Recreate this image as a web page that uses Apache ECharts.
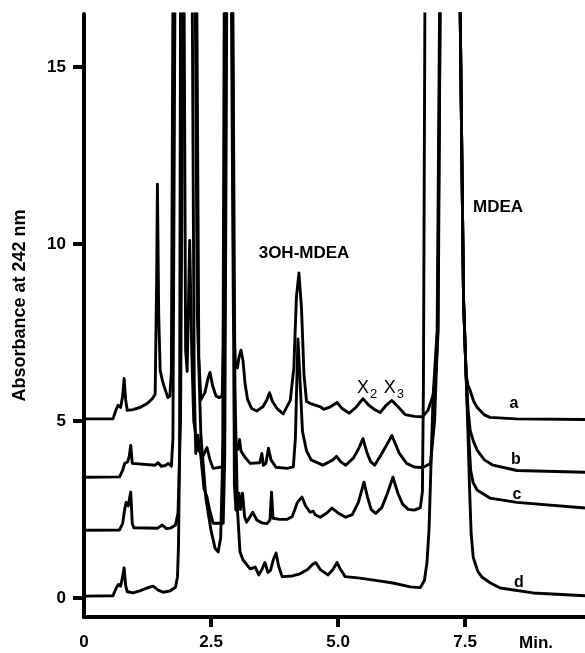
<!DOCTYPE html>
<html>
<head>
<meta charset="utf-8">
<title>Chromatogram</title>
<script src="https://cdn.jsdelivr.net/npm/echarts@6.0.0/dist/echarts.min.js"></script>
<style>
    html, body { margin: 0; padding: 0; background: #fff; }
    #chart { width: 585px; height: 653px; }
</style>
</head>
<body>
<div id="chart"></div>
<script>
// Retention time (min) vs absorbance
const traceA = [
    [0, 5.06], [0.57, 5.06], [0.64, 5.35], [0.67, 5.44], [0.72, 5.38], [0.76, 5.7], [0.79, 6.2], [0.82, 5.6],
    [0.85, 5.3], [0.96, 5.32], [1.10, 5.38], [1.24, 5.49], [1.34, 5.62], [1.40, 5.75], [1.43, 9], [1.445, 11.69],
    [1.47, 8], [1.50, 6.42], [1.55, 6.1], [1.59, 5.92], [1.65, 5.66], [1.69, 5.7], [1.72, 6.4], [1.75, 17],
    [2.22, 17], [2.26, 6.8], [2.30, 5.6], [2.38, 5.8], [2.44, 6.2], [2.48, 6.37], [2.53, 6.0], [2.60, 5.7],
    [2.66, 5.66], [2.72, 5.7], [2.75, 7.5], [2.78, 17], [2.90, 17], [2.94, 8], [2.98, 6.6], [3.02, 6.5],
    [3.05, 6.8], [3.09, 7.0], [3.13, 6.7], [3.17, 6.05], [3.22, 5.6], [3.30, 5.35], [3.40, 5.28], [3.52, 5.4],
    [3.60, 5.6], [3.65, 5.8], [3.71, 5.55], [3.80, 5.35], [3.92, 5.2], [4.06, 5.58], [4.13, 6.5], [4.18, 8.5],
    [4.23, 9.18], [4.28, 8.2], [4.33, 6.3], [4.38, 5.55], [4.45, 5.5], [4.55, 5.45], [4.65, 5.4], [4.72, 5.33],
    [4.85, 5.4], [4.98, 5.52], [5.08, 5.35], [5.22, 5.22], [5.35, 5.38], [5.49, 5.63], [5.60, 5.45], [5.72, 5.32],
    [5.83, 5.24], [5.95, 5.45], [6.06, 5.58], [6.18, 5.4], [6.32, 5.18], [6.50, 5.13], [6.66, 5.12], [6.77, 5.3],
    [6.87, 5.72], [6.93, 6.42], [6.97, 7.55], [7.01, 17], [7.40, 17], [7.44, 12], [7.47, 8.4], [7.52, 6.3],
    [7.56, 6.0], [7.60, 5.86], [7.67, 5.55], [7.74, 5.38], [7.87, 5.18], [7.99, 5.10], [8.5, 5.06], [9.86, 5.04]
];

const traceB = [
    [0, 3.41], [0.70, 3.42], [0.76, 3.6], [0.80, 3.8], [0.86, 3.85], [0.89, 4.0], [0.92, 4.31], [0.95, 3.8],
    [0.98, 3.75], [1.40, 3.75], [1.46, 3.82], [1.52, 3.72], [1.60, 3.74], [1.66, 3.8], [1.72, 3.72], [1.75, 4.5],
    [1.79, 17], [1.97, 17], [2.00, 7], [2.03, 6.4], [2.08, 10.1], [2.12, 7], [2.16, 5], [2.24, 4.2],
    [2.34, 4.0], [2.42, 4.25], [2.48, 3.9], [2.54, 3.66], [2.72, 3.7], [2.76, 5], [2.80, 17], [2.92, 17],
    [2.96, 5], [2.99, 4.3], [3.03, 4.2], [3.06, 4.48], [3.09, 4.15], [3.17, 3.97], [3.27, 3.8], [3.46, 3.82],
    [3.50, 4.08], [3.53, 3.75], [3.58, 3.8], [3.63, 4.23], [3.68, 3.9], [3.78, 3.69], [4.00, 3.66], [4.12, 3.7],
    [4.16, 4.5], [4.21, 7.32], [4.25, 6.2], [4.30, 4.7], [4.38, 4.15], [4.47, 3.9], [4.70, 3.75], [4.90, 3.9],
    [4.97, 4.0], [5.05, 3.85], [5.15, 3.75], [5.30, 3.95], [5.40, 4.2], [5.49, 4.5], [5.57, 4.1], [5.64, 3.85],
    [5.72, 3.75], [5.85, 4.05], [6.06, 4.59], [6.20, 4.1], [6.35, 3.8], [6.50, 3.7], [6.66, 3.68], [6.82, 3.8],
    [6.90, 5], [6.96, 7.5], [7.01, 17], [7.40, 17], [7.44, 12], [7.47, 8.4], [7.52, 6.3], [7.56, 5.3],
    [7.60, 4.73], [7.67, 4.4], [7.74, 4.17], [7.88, 3.9], [8.05, 3.75], [8.52, 3.6], [9.86, 3.55]
];

const traceC = [
    [0, 1.91], [0.70, 1.92], [0.76, 2.1], [0.80, 2.5], [0.83, 2.7], [0.87, 2.6], [0.92, 2.99], [0.95, 2.1],
    [0.98, 1.98], [1.45, 1.97], [1.54, 2.06], [1.62, 1.96], [1.70, 1.97], [1.80, 2.06], [1.85, 2.4], [1.90, 5],
    [1.95, 17], [2.13, 17], [2.17, 6], [2.20, 4.08], [2.24, 4.6], [2.30, 4.0], [2.36, 3.1], [2.42, 2.85],
    [2.47, 2.5], [2.54, 2.11], [2.74, 2.11], [2.77, 4], [2.81, 17], [2.92, 17], [2.96, 3.2], [2.99, 2.48],
    [3.02, 2.7], [3.05, 2.96], [3.08, 2.5], [3.12, 2.96], [3.16, 2.3], [3.20, 2.14], [3.27, 2.3], [3.32, 2.42],
    [3.40, 2.2], [3.50, 2.12], [3.60, 2.1], [3.66, 2.2], [3.69, 2.99], [3.72, 2.25], [3.85, 2.22], [4.00, 2.22],
    [4.10, 2.3], [4.20, 2.7], [4.29, 2.85], [4.36, 2.6], [4.45, 2.42], [4.51, 2.45], [4.55, 2.35], [4.65, 2.28],
    [4.78, 2.4], [4.88, 2.54], [5.00, 2.4], [5.15, 2.28], [5.28, 2.35], [5.40, 2.7], [5.51, 3.27], [5.58, 2.85],
    [5.65, 2.5], [5.74, 2.39], [5.86, 2.55], [5.97, 2.95], [6.08, 3.41], [6.18, 2.95], [6.27, 2.65], [6.38, 2.5],
    [6.50, 2.48], [6.62, 2.55], [6.66, 3], [6.68, 6], [6.71, 17], [7.40, 17], [7.44, 12], [7.47, 8.4],
    [7.52, 6.3], [7.57, 4.6], [7.61, 3.6], [7.66, 3.25], [7.74, 3.04], [7.99, 2.82], [8.52, 2.7], [9.86, 2.54]
];

const traceD = [
    [0, 0.05], [0.57, 0.06], [0.64, 0.3], [0.68, 0.38], [0.72, 0.33], [0.76, 0.6], [0.79, 0.85], [0.82, 0.35],
    [0.85, 0.18], [0.96, 0.14], [1.10, 0.2], [1.24, 0.28], [1.36, 0.33], [1.46, 0.22], [1.56, 0.16], [1.70, 0.2],
    [1.80, 0.3], [1.84, 0.6], [1.86, 1.5], [1.88, 4], [1.90, 17], [2.19, 17], [2.23, 8], [2.30, 4.6],
    [2.40, 2.8], [2.50, 1.9], [2.58, 1.4], [2.64, 1.3], [2.69, 1.7], [2.73, 4], [2.76, 17], [2.93, 17],
    [2.97, 6], [3.02, 2.5], [3.07, 1.3], [3.13, 1.07], [3.20, 0.95], [3.27, 0.82], [3.37, 0.87], [3.44, 0.65],
    [3.50, 0.8], [3.56, 1.0], [3.62, 0.72], [3.67, 0.78], [3.73, 1.1], [3.78, 1.27], [3.83, 0.9], [3.90, 0.6],
    [4.10, 0.62], [4.25, 0.68], [4.40, 0.8], [4.50, 0.95], [4.56, 1.0], [4.65, 0.8], [4.80, 0.65], [4.90, 0.8],
    [4.98, 1.0], [5.05, 0.8], [5.14, 0.6], [5.43, 0.56], [5.80, 0.48], [6.08, 0.42], [6.42, 0.31], [6.62, 0.29],
    [6.70, 0.5], [6.75, 1.0], [6.79, 1.92], [6.83, 3.81], [6.87, 5.68], [6.95, 7.57], [7.00, 17], [7.40, 17],
    [7.44, 12], [7.47, 8.4], [7.52, 6.3], [7.56, 4.5], [7.59, 3.0], [7.62, 1.8], [7.66, 1.15], [7.75, 0.75],
    [7.83, 0.59], [8.0, 0.42], [8.19, 0.28], [8.84, 0.14], [9.86, 0.06]
];

const traceNames = ['a', 'b', 'c', 'd'];
const xTickValues = [2.5, 5, 7.5];
const xLabelValues = [0, 2.5, 5, 7.5];
const yTickValues = [0, 5, 10, 15];

document.addEventListener('DOMContentLoaded', function() {
    const chart = echarts.init(document.getElementById('chart'), null, { renderer: 'canvas' });
    const font = '"Liberation Sans", Arial, sans-serif';
    const traces = [traceA, traceB, traceC, traceD];

    // peak names and trace letters, placed in data units
    const notes = [
        { value: [4.33, 9.75], text: '3OH-MDEA' },
        { value: [8.15, 11.05], text: 'MDEA' },
        { value: [5.57, 5.93], text: '{x|X}{s|2}' },
        { value: [6.10, 5.93], text: '{x|X}{s|3}' },
        { value: [8.46, 5.48], text: traceNames[0], small: true },
        { value: [8.50, 3.90], text: traceNames[1], small: true },
        { value: [8.52, 2.91], text: traceNames[2], small: true },
        { value: [8.56, 0.42], text: traceNames[3], small: true }
    ];

    const lineSeries = traces.map((data, i) => ({
        name: traceNames[i],
        type: 'line',
        data: data,
        showSymbol: false,
        clip: true,
        lineStyle: { color: '#000', width: 2.9, join: 'round' },
        z: 2
    }));

    const option = {
        animation: false,
        backgroundColor: '#fff',
        grid: { left: 84, right: 0, top: 14, bottom: 36 },
        xAxis: {
            type: 'value',
            min: 0,
            max: 9.86,
            axisLine: { onZero: false, lineStyle: { color: '#000', width: 4 } },
            axisTick: { length: 10, customValues: xTickValues, lineStyle: { color: '#000', width: 4 } },
            axisLabel: {
                customValues: xLabelValues,
                formatter: v => v === 0 ? '0' : v.toFixed(1),
                margin: 17,
                color: '#000',
                fontSize: 17,
                fontWeight: 'bold',
                fontFamily: font
            },
            splitLine: { show: false }
        },
        yAxis: {
            type: 'value',
            min: -0.54,
            max: 16.5,
            name: 'Absorbance at 242 nm',
            nameLocation: 'middle',
            nameRotate: 90,
            nameGap: 55,
            nameTextStyle: { color: '#000', fontSize: 18, fontWeight: 'bold', fontFamily: font, padding: [0, 0, 0, 20] },
            axisLine: { onZero: false, lineStyle: { color: '#000', width: 4 } },
            axisTick: { length: 11, customValues: yTickValues, lineStyle: { color: '#000', width: 4 } },
            axisLabel: {
                customValues: yTickValues,
                margin: 18,
                color: '#000',
                fontSize: 17,
                fontWeight: 'bold',
                fontFamily: font
            },
            splitLine: { show: false }
        },
        series: lineSeries.concat([{
            type: 'scatter',
            symbolSize: 0,
            silent: true,
            z: 5,
            itemStyle: { opacity: 1 },
            data: notes.map(n => ({
                value: n.value,
                label: {
                    show: true,
                    position: 'inside',
                    formatter: n.text,
                    color: '#000',
                    fontFamily: font,
                    fontWeight: 'bold',
                    fontSize: n.small ? 16 : 17,
                    rich: {
                        x: { fontSize: 18, fontWeight: 'normal', fontFamily: font, color: '#000' },
                        s: { fontSize: 13, fontWeight: 'normal', fontFamily: font, color: '#000', padding: [12, 0, 0, 1] }
                    }
                }
            }))
        }]),
        graphic: [{
            type: 'text',
            left: 519,
            top: 635,
            style: { text: 'Min.', fill: '#000', font: 'bold 17px ' + font }
        }]
    };

    chart.setOption(option);
});
</script>
</body>
</html>
